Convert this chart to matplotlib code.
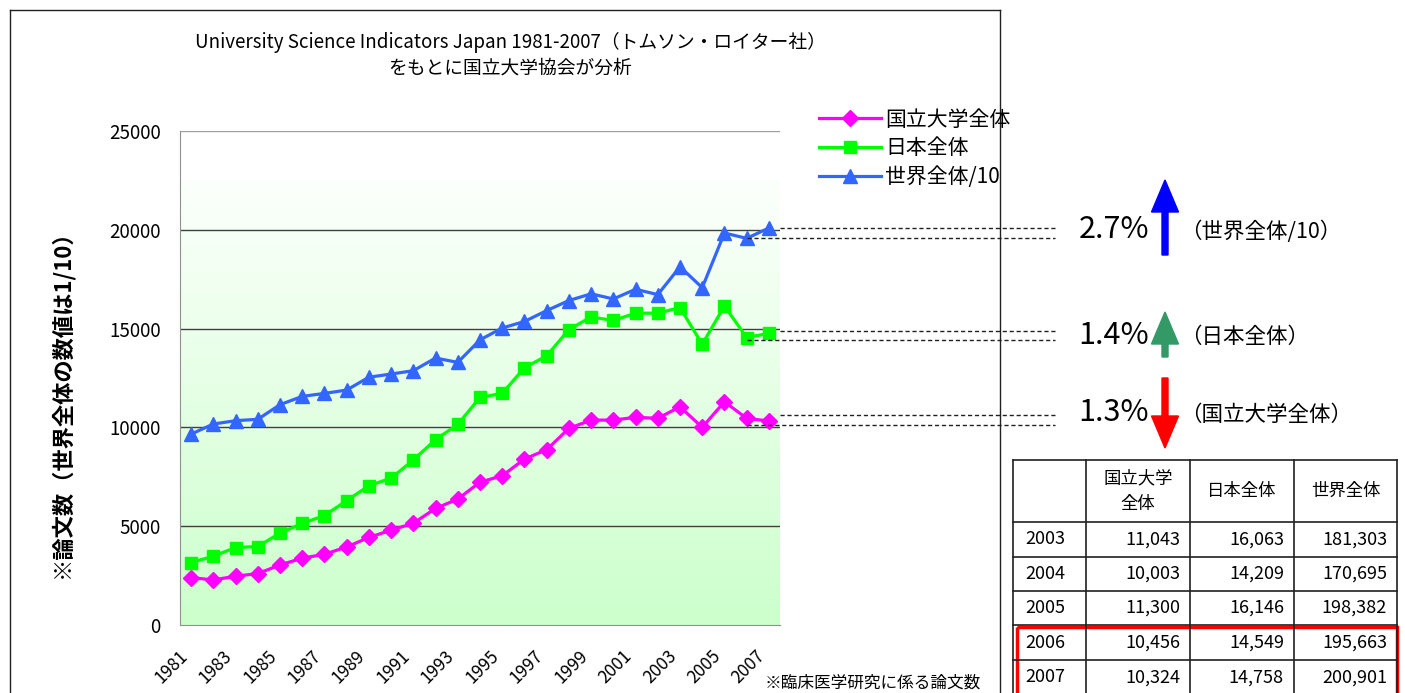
import numpy as np
import matplotlib
matplotlib.use('Agg')
from matplotlib import pyplot as plt
from matplotlib.patches import Rectangle, FancyArrow
from matplotlib.lines import Line2D
from matplotlib.transforms import Affine2D

plt.rcParams['font.family'] = ['Noto Sans CJK JP', 'DejaVu Sans']

# data (papers per year)
years = list(range(1981, 2008))
natl = [2400, 2280, 2470, 2600, 3040, 3380, 3580, 3950, 4430, 4800, 5150, 5900, 6370, 7230,
        7550, 8400, 8870, 9950, 10370, 10370, 10510, 10460, 11043, 10003, 11300, 10456, 10324]
japan = [3160, 3480, 3920, 3970, 4650, 5140, 5540, 6290, 7050, 7430, 8350, 9380, 10150, 11520,
         11720, 13020, 13620, 14950, 15590, 15410, 15780, 15780, 16063, 14209, 16146, 14549, 14758]
world = [96600, 101700, 103400, 104100, 111500, 115700, 117200, 118900, 125400, 127000, 128700,
         135100, 132900, 144300, 150300, 153600, 159100, 164200, 167600, 165000, 169900, 167200,
         181303, 170695, 198382, 195663, 200901]
labels = ['国立大学全体', '日本全体', '世界全体/10']
table_head = ['', '国立大学\n全体', '日本全体', '世界全体']
table_years = years[-5:]

W, H = 1405, 693
fig = plt.figure(figsize=(W / 100, H / 100), dpi=100)
# pixel coords, origin top-left
px = Affine2D().scale(1 / W, -1 / H).translate(0, 1) + fig.transFigure

ax = fig.add_axes([180 / W, 1 - 625 / H, 600 / W, 494 / H])
x = np.arange(len(years))
world10 = [w / 10 for w in world]

# background gradient
grad = np.linspace(0, 1, 256).reshape(-1, 1)
top = np.array([252, 255, 252]) / 255
bot = np.array([204, 255, 204]) / 255
img = top + (bot - top) * grad[..., None]
ax.imshow(img, extent=[0, 1, 0, 0.9], transform=ax.transAxes, aspect='auto', zorder=0)

for yv in [5000, 10000, 15000, 20000]:
    ax.axhline(yv, color='#404040', lw=1, zorder=1)
ax.axhline(25000, color='#a0a0a0', lw=1, zorder=1)

ax.plot(x, natl, color='#ff00ff', lw=2.3, marker='D', ms=8, label=labels[0], zorder=3)
ax.plot(x, japan, color='#00ff00', lw=2.3, marker='s', ms=8.5, label=labels[1], zorder=3)
ax.plot(x, world10, color='#3366ff', lw=2.3, marker='^', ms=10, label=labels[2], zorder=3)

ax.set_xlim(-0.5, len(years) - 0.5)
ax.set_ylim(0, 25000)
ax.set_yticks([0, 5000, 10000, 15000, 20000, 25000])
ax.set_xticks(x[::2])
ax.set_xticklabels([str(y) for y in years[::2]], rotation=45, ha='right', va='top')
ax.tick_params(axis='y', length=0, labelsize=13.5, pad=14)
ax.tick_params(axis='x', length=0, labelsize=12.5, pad=16)
for s in ['top', 'right']:
    ax.spines[s].set_visible(False)
for s in ['left', 'bottom']:
    ax.spines[s].set_color('#909090')
ax.patch.set_alpha(0)

leg = fig.legend(loc='upper left', bbox_to_anchor=(800 / W, 1 - 90 / H), frameon=False,
                 fontsize=15, handlelength=3, labelspacing=0.32, handletextpad=0.2)

# dashed guides from the last two years
x_end = -0.5 + (1055 - 180) / 600 * len(years)
n = len(years)
for ser in [world10, japan, natl]:
    c = (ser[-1] + ser[-2]) / 2
    h = max(abs(ser[-1] - ser[-2]) / 2, 250)
    ax.plot([n - 0.5, x_end], [c + h, c + h], ls=(0, (3, 2)), color='#202020', lw=1, clip_on=False, zorder=4)
    ax.plot([n - 2, x_end], [c - h, c - h], ls=(0, (3, 2)), color='#202020', lw=1, clip_on=False, zorder=4)

# title
fig.text(510 / W, 1 - 42 / H, 'University Science Indicators Japan 1981-2007（トムソン・ロイター社）',
         ha='center', va='center', fontsize=13.5)
fig.text(510 / W, 1 - 68 / H, 'をもとに国立大学協会が分析', ha='center', va='center', fontsize=13.5)
fig.text(62 / W, 1 - 398 / H, '※論文数（世界全体の数値は1/10）', rotation=90, ha='center', va='center',
         fontsize=16, fontweight='bold')
fig.text(765 / W, 1 - 692 / H, '※臨床医学研究に係る論文数', ha='left', va='bottom', fontsize=12)

# frame
for xs, ys in [([10, 1000], [10, 10]), ([10, 10], [10, 700]), ([1000, 1000], [10, 700])]:
    fig.add_artist(Line2D(xs, ys, transform=px, color='#202020', lw=1))

# change arrows and labels
changes = [(world, '#0000ff', 230, '（世界全体/10）'),
           (japan, '#339966', 335, '（日本全体）'),
           (natl, '#ff0000', 413, '（国立大学全体）')]
for ser, col, ty, name in changes:
    pct = (ser[-1] / ser[-2] - 1) * 100
    fig.text(1149 / W, 1 - ty / H, '%.1f%%' % abs(pct), ha='right', va='center', fontsize=22)
    fig.text(1180 / W, 1 - (ty + 2) / H, name, ha='left', va='center', fontsize=15.5)
    if pct > 0:
        tail, tip = ty + 22 if col == '#339966' else ty + 25, ty - (23 if col == '#339966' else 50)
    else:
        tail, tip = ty - 35, ty + 35
    fig.add_artist(FancyArrow(1165, tail, 0, tip - tail, width=6, head_width=27, head_length=32,
                              length_includes_head=True, color=col, transform=px))

# table
cx = [1013, 1086, 1190, 1294, 1397]
ry = [460, 522, 557, 591, 625, 660, 695]
for xx in cx:
    fig.add_artist(Line2D([xx, xx], [ry[0], ry[-1]], transform=px, color='#202020', lw=1.2))
for yy in ry[:-1]:
    fig.add_artist(Line2D([cx[0], cx[-1]], [yy, yy], transform=px, color='#202020', lw=1.2))
for j, t in enumerate(table_head):
    fig.text((cx[j] + cx[j + 1]) / 2 / W, 1 - (ry[0] + ry[1]) / 2 / H, t, ha='center', va='center',
             fontsize=12.5, linespacing=1.5)
for i, yr in enumerate(table_years):
    yc = 1 - (ry[i + 1] + ry[i + 2]) / 2 / H
    k = len(years) - 5 + i
    fig.text((cx[0] + 12) / W, yc, str(yr), ha='left', va='center', fontsize=13)
    for j, ser in enumerate([natl, japan, world]):
        fig.text((cx[j + 2] - 10) / W, yc, '{:,}'.format(ser[k]), ha='right', va='center', fontsize=13)
fig.add_artist(Rectangle((1017, 627), 380, 80, transform=px, fill=False, ec='#ff0000', lw=2.5))

fig.savefig('out.png', dpi=100)
